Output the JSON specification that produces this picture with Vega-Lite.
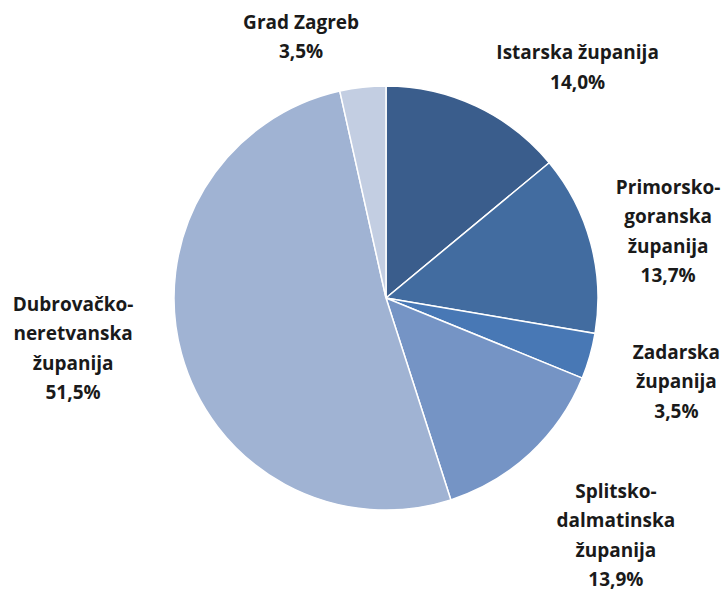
{
  "$schema": "https://vega.github.io/schema/vega-lite/v6.json",
  "width": 676,
  "height": 584,
  "autosize": {"type": "none"},
  "padding": {"left": 48, "right": 0, "top": 6, "bottom": 0},
  "background": "white",
  "config": {"view": {"stroke": null}},
  "data": {
    "values": [
      {"name": "Istarska županija", "value": 14.0, "label": "Istarska županija\n14,0%"},
      {"name": "Primorsko-goranska županija", "value": 13.7, "label": "Primorsko-\ngoranska\nžupanija\n13,7%"},
      {"name": "Zadarska županija", "value": 3.5, "label": "Zadarska\nžupanija\n3,5%"},
      {"name": "Splitsko-dalmatinska županija", "value": 13.9, "label": "Splitsko-\ndalmatinska\nžupanija\n13,9%"},
      {"name": "Dubrovačko-neretvanska županija", "value": 51.5, "label": "Dubrovačko-\nneretvanska\nžupanija\n51,5%"},
      {"name": "Grad Zagreb", "value": 3.5, "label": "Grad Zagreb\n3,5%"}
    ]
  },
  "encoding": {
    "theta": {"field": "value", "type": "quantitative", "stack": true},
    "order": {"field": "order", "type": "quantitative"}
  },
  "transform": [
    {"window": [{"op": "row_number", "as": "order"}]}
  ],
  "layer": [
    {
      "mark": {"type": "arc", "outerRadius": 212, "stroke": "white", "strokeWidth": 1.5},
      "encoding": {
        "color": {
          "field": "name",
          "type": "nominal",
          "sort": null,
          "scale": {
            "domain": ["Istarska županija", "Primorsko-goranska županija", "Zadarska županija", "Splitsko-dalmatinska županija", "Dubrovačko-neretvanska županija", "Grad Zagreb"],
            "range": ["#3A5D8C", "#426CA0", "#4878B5", "#7594C5", "#A0B3D3", "#C3CEE2"]
          },
          "legend": null
        }
      }
    },
    {
      "mark": {"type": "text", "lineBreak": "\n", "radius": 300, "dx": 64, "dy": 27, "font": "Open Sans", "fontWeight": "bold", "fontSize": 19, "lineHeight": 29.5, "align": "center", "baseline": "middle", "color": "#1a1a1a"},
      "encoding": {"text": {"condition": {"test": "datum.name === 'Istarska županija'", "field": "label"}, "value": ""}}
    },
    {
      "mark": {"type": "text", "lineBreak": "\n", "radius": 290, "dx": 2, "dy": -35, "font": "Open Sans", "fontWeight": "bold", "fontSize": 19, "lineHeight": 29.5, "align": "center", "baseline": "middle", "color": "#1a1a1a"},
      "encoding": {"text": {"condition": {"test": "datum.name === 'Primorsko-goranska županija'", "field": "label"}, "value": ""}}
    },
    {
      "mark": {"type": "text", "lineBreak": "\n", "radius": 302, "dx": 0, "dy": -28, "font": "Open Sans", "fontWeight": "bold", "fontSize": 19, "lineHeight": 29.5, "align": "center", "baseline": "middle", "color": "#1a1a1a"},
      "encoding": {"text": {"condition": {"test": "datum.name === 'Zadarska županija'", "field": "label"}, "value": ""}}
    },
    {
      "mark": {"type": "text", "lineBreak": "\n", "radius": 331, "dx": 5, "dy": -49, "font": "Open Sans", "fontWeight": "bold", "fontSize": 19, "lineHeight": 29.5, "align": "center", "baseline": "middle", "color": "#1a1a1a"},
      "encoding": {"text": {"condition": {"test": "datum.name === 'Splitsko-dalmatinska županija'", "field": "label"}, "value": ""}}
    },
    {
      "mark": {"type": "text", "lineBreak": "\n", "radius": 316, "dx": -8, "dy": -76, "font": "Open Sans", "fontWeight": "bold", "fontSize": 19, "lineHeight": 29.5, "align": "center", "baseline": "middle", "color": "#1a1a1a"},
      "encoding": {"text": {"condition": {"test": "datum.name === 'Dubrovačko-neretvanska županija'", "field": "label"}, "value": ""}}
    },
    {
      "mark": {"type": "text", "lineBreak": "\n", "radius": 273, "dx": -55, "dy": -4, "font": "Open Sans", "fontWeight": "bold", "fontSize": 19, "lineHeight": 29.5, "align": "center", "baseline": "middle", "color": "#1a1a1a"},
      "encoding": {"text": {"condition": {"test": "datum.name === 'Grad Zagreb'", "field": "label"}, "value": ""}}
    }
  ]
}
